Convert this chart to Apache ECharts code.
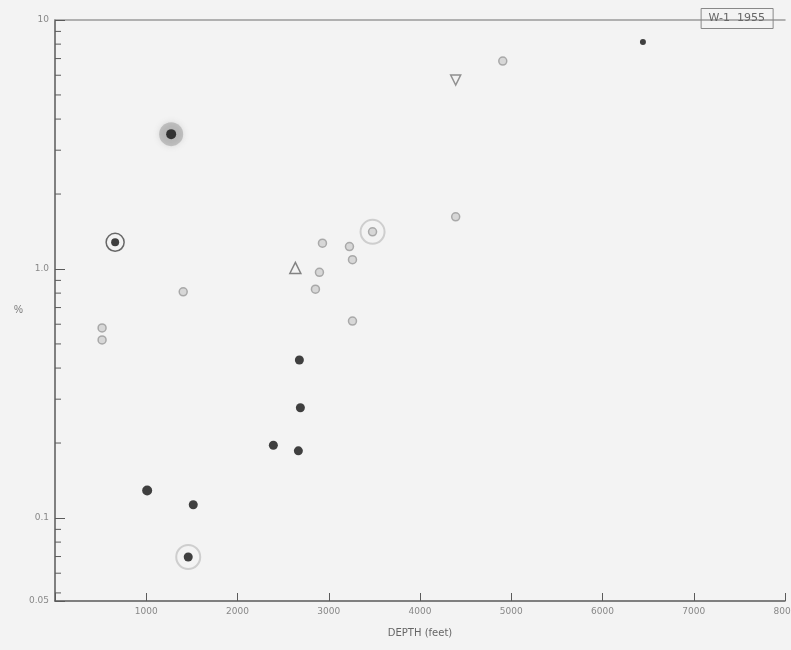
<!DOCTYPE html>
<html>
<head>
<meta charset="utf-8">
<script src="https://cdn.jsdelivr.net/npm/echarts@6/dist/echarts.min.js"></script>
<style>html,body{margin:0;padding:0;background:#f3f3f3}#c{width:791px;height:650px}</style>
</head>
<body>
<div id="c"></div>
<script>
// ---- data ----
var filledDepth = [1273, 659, 6443, 2678, 2689, 2393, 2667, 1010, 1515, 1460];
var filledValue = [3.48, 1.28, 8.16, 0.431, 0.277, 0.196, 0.186, 0.129, 0.113, 0.0697];
var filledSize  = [10, 8, 6, 9, 9, 9, 9, 10, 9, 9];

var openDepth = [4907, 4391, 3480, 2931, 3227, 3260, 2898, 2854, 3260, 1405, 516, 516];
var openValue = [6.84, 1.62, 1.41, 1.27, 1.23, 1.09, 0.97, 0.83, 0.618, 0.81, 0.58, 0.519];

var triDownDepth = [4391];
var triDownValue = [5.74];
var triUpDepth = [2634];
var triUpValue = [1.01];

var ringDarkDepth = [659];
var ringDarkValue = [1.28];
var ringLightDepth = [1460, 3480];
var ringLightValue = [0.0697, 1.41];
var haloDepth = [1273];
var haloValue = [3.48];

var xTickLabels = ['', '1000', '2000', '3000', '4000', '5000', '6000', '7000', '8000'];
var yTickValues = [0.0464, 0.1, 1, 10];
var yTickLabels = ['0.05', '0.1', '1.0', '10'];
var yMinorTicks = [0.05, 0.06, 0.07, 0.08, 0.09, 0.2, 0.3, 0.4, 0.5, 0.6, 0.7, 0.8, 0.9, 2, 3, 4, 5, 6, 7, 8, 9];

function pairs(xs, ys) { return xs.map(function (x, i) { return [x, ys[i]]; }); }

var chart = echarts.init(document.getElementById('c'));
var axisCol = '#5a5a5a';
chart.setOption({
  backgroundColor: '#f3f3f3',
  animation: false,
  title: {
    text: 'W-1  1955',
    right: 18, top: 8,
    padding: [5, 8],
    borderColor: '#888', borderWidth: 1,
    textStyle: { fontSize: 11, fontWeight: 'normal', color: '#666', fontFamily: 'DejaVu Sans' }
  },
  grid: { left: 55, right: 6, top: 20, bottom: 49, containLabel: false, outerBoundsMode: 'none' },
  xAxis: [{
    type: 'value', min: 0, max: 8000, interval: 1000,
    name: 'DEPTH (feet)', nameLocation: 'middle', nameGap: 27,
    nameTextStyle: { color: '#666', fontSize: 10, fontFamily: 'DejaVu Sans' },
    axisLine: { lineStyle: { color: axisCol, width: 1.5 } },
    axisTick: { inside: true, length: 8, lineStyle: { color: axisCol } },
    splitLine: { show: false },
    axisLabel: { color: '#888', fontSize: 9, fontFamily: 'DejaVu Sans', margin: 6,
      formatter: function (v) { return xTickLabels[Math.round(v / 1000)] || ''; } }
  }, {
    type: 'value', position: 'top', min: 0, max: 8000, interval: 1000,
    axisLine: { show: true, lineStyle: { color: '#9a9a9a', width: 1.5 } },
    axisTick: { show: false }, axisLabel: { show: false }, splitLine: { show: false }
  }],
  yAxis: {
    type: 'log', logBase: 10, min: 0.0464, max: 10,
    name: '%', nameLocation: 'middle', nameGap: 32, nameRotate: 0,
    nameTextStyle: { color: '#777', fontSize: 10 },
    axisLine: { lineStyle: { color: axisCol, width: 1.5 } },
    axisTick: { inside: true, length: 10, lineStyle: { color: axisCol } },
    splitLine: { show: false },
    axisLabel: { color: '#888', fontSize: 9, fontFamily: 'DejaVu Sans', margin: 6,
      formatter: function (v) {
        for (var i = 0; i < yTickValues.length; i++) {
          if (Math.abs(Math.log10(v) - Math.log10(yTickValues[i])) < 0.02) return yTickLabels[i];
        }
        return '';
      } }
  },
  series: [
    {
      type: 'custom', silent: true, z: 1,
      data: yMinorTicks.map(function (v) { return [0, v]; }),
      renderItem: function (params, api) {
        var p = api.coord([0, api.value(1)]);
        return { type: 'line', shape: { x1: p[0], y1: p[1], x2: p[0] + 6, y2: p[1] },
                 style: { stroke: axisCol, lineWidth: 1 } };
      }
    },
    {
      type: 'scatter', data: pairs(haloDepth, haloValue), symbolSize: 24, z: 2,
      itemStyle: { color: 'rgba(120,120,120,0.45)', shadowBlur: 6, shadowColor: 'rgba(100,100,100,0.5)' }
    },
    {
      type: 'scatter', data: pairs(ringDarkDepth, ringDarkValue), symbolSize: 18, z: 2,
      itemStyle: { color: 'rgba(0,0,0,0)', borderColor: '#444', borderWidth: 1.5 }
    },
    {
      type: 'scatter', data: pairs(ringLightDepth, ringLightValue), symbolSize: 24, z: 2,
      itemStyle: { color: 'rgba(0,0,0,0)', borderColor: '#c4c4c4', borderWidth: 2 }
    },
    {
      type: 'scatter', z: 3,
      data: pairs(openDepth, openValue), symbolSize: 8,
      itemStyle: { color: '#d0d0d0', borderColor: '#9a9a9a', borderWidth: 1.5 }
    },
    {
      type: 'scatter', z: 3, symbol: 'triangle', symbolRotate: 180,
      data: pairs(triDownDepth, triDownValue), symbolSize: 10,
      itemStyle: { color: 'rgba(0,0,0,0)', borderColor: '#777', borderWidth: 1.5 }
    },
    {
      type: 'scatter', z: 3, symbol: 'triangle',
      data: pairs(triUpDepth, triUpValue), symbolSize: 11,
      itemStyle: { color: 'rgba(0,0,0,0)', borderColor: '#666', borderWidth: 1.5 }
    },
    {
      type: 'scatter', z: 4,
      data: pairs(filledDepth, filledValue),
      symbolSize: function (v, p) { return filledSize[p.dataIndex]; },
      itemStyle: { color: '#111' }
    }
  ]
});
</script>
</body>
</html>
